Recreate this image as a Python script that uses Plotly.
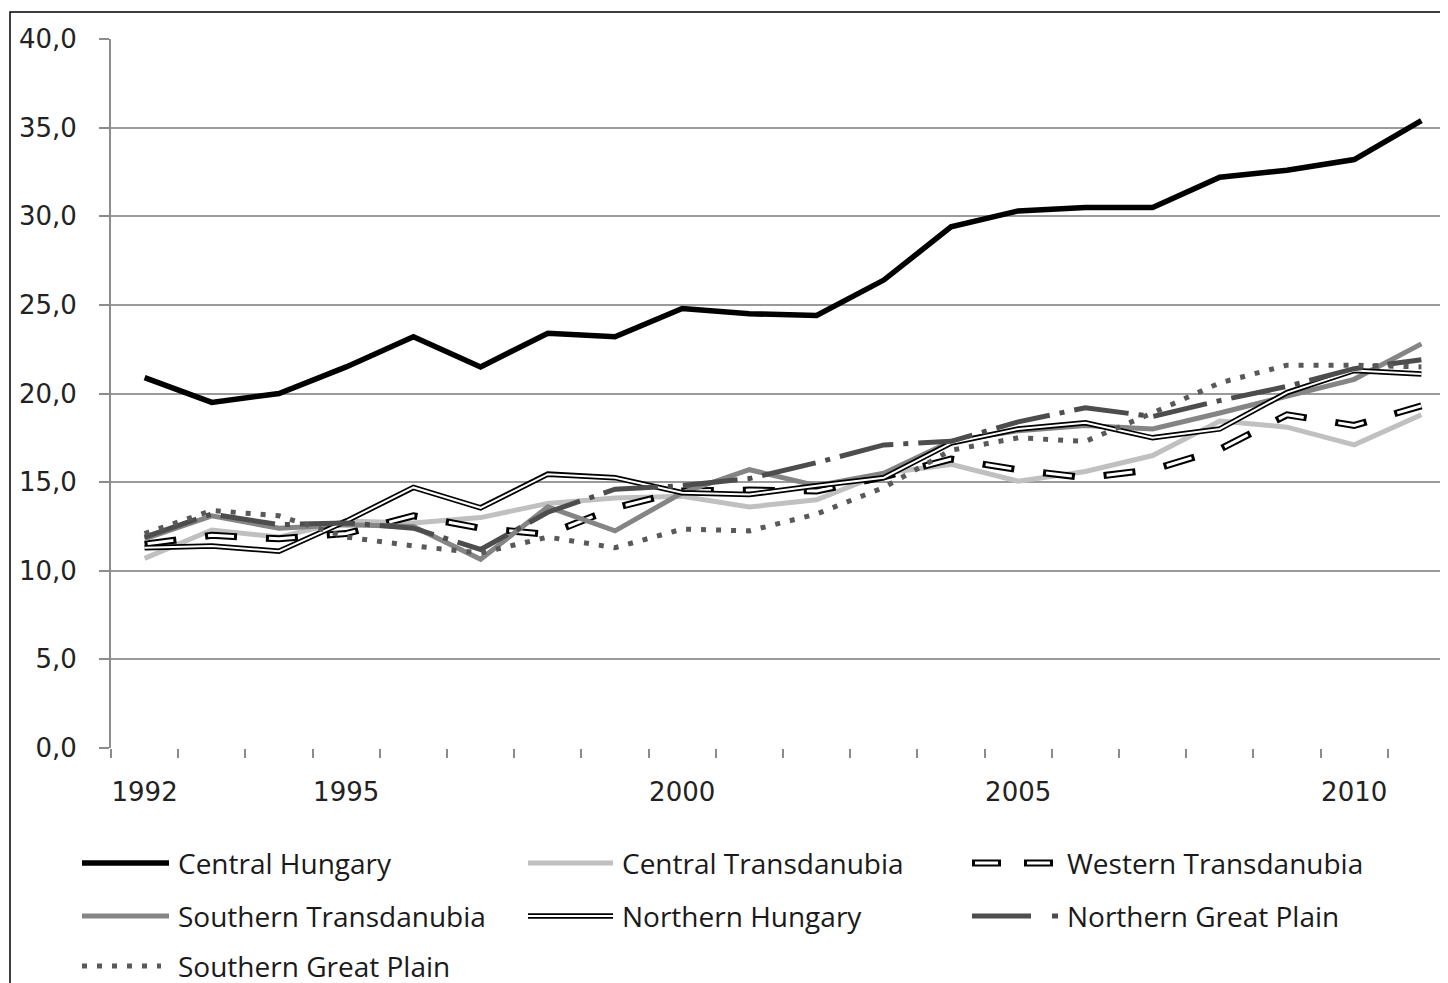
import plotly.graph_objects as go

years = list(range(1992, 2012))
central_hungary = [20.9, 19.5, 20.0, 21.5, 23.2, 21.5, 23.4, 23.2, 24.8, 24.5,
                   24.4, 26.4, 29.4, 30.3, 30.5, 30.5, 32.2, 32.6, 33.2, 35.4]
central_transdanubia = [10.7, 12.3, 11.9, 12.8, 12.7, 13.0, 13.8, 14.1, 14.2, 13.6,
                        14.0, 15.5, 16.0, 15.05, 15.6, 16.5, 18.45, 18.1, 17.1, 18.8]
western_transdanubia = [11.5, 12.0, 11.8, 12.1, 13.1, 12.4, 12.05, 13.55, 14.5, 14.55,
                        14.5, 15.3, 16.3, 15.7, 15.25, 15.7, 16.85, 18.8, 18.2, 19.3]
southern_transdanubia = [11.8, 13.1, 12.4, 12.6, 12.5, 10.65, 13.6, 12.25, 14.4, 15.7,
                         14.8, 15.5, 17.3, 17.9, 18.2, 18.0, 18.9, 19.85, 20.8, 22.8]
northern_hungary = [11.3, 11.4, 11.1, 12.8, 14.7, 13.55, 15.45, 15.25, 14.4, 14.3,
                    14.8, 15.25, 17.2, 18.0, 18.35, 17.5, 18.0, 20.05, 21.3, 21.1]
northern_great_plain = [11.9, 13.2, 12.6, 12.7, 12.4, 11.2, 13.3, 14.6, 14.8, 15.2,
                        16.1, 17.1, 17.3, 18.4, 19.2, 18.7, 19.6, 20.4, 21.4, 21.9]
southern_great_plain = [12.1, 13.4, 13.1, 11.9, 11.4, 11.0, 11.9, 11.3, 12.35, 12.25,
                        13.2, 14.7, 16.8, 17.5, 17.3, 18.9, 20.6, 21.6, 21.6, 21.5]

y_ticks = [0, 5, 10, 15, 20, 25, 30, 35, 40]
x_label_years = [1992, 1995, 2000, 2005, 2010]

# layout geometry (pixels); page offsets the figure by ~7px
OFF = 7
FW, FH = 1448, 983
ML, MR, MT = 110 - OFF, 0, 38 - OFF
MB = FH - (747 - OFF)
PW, PH = FW - ML - MR, FH - MT - MB
CAT = 67.2  # px per year


def px(x):
    return (x - OFF - ML) / PW


def py(y):
    return (FH - MB - (y - OFF)) / PH


fig = go.Figure()

OUT_DASH = "32px,29px"
IN_DASH = "0px,3px,26px,32px"
NGP_DASH = "55px,10px,5px,10px"
SGP_DASH = "5px,10px"
series = [
    ("Central Hungary", central_hungary, [("#000000", 5.5, "solid")]),
    ("Central Transdanubia", central_transdanubia, [("#c0c0c0", 5, "solid")]),
    ("Western Transdanubia", western_transdanubia,
     [("#000000", 7, OUT_DASH), ("#ffffff", 3, IN_DASH)]),
    ("Southern Transdanubia", southern_transdanubia, [("#858585", 5, "solid")]),
    ("Northern Hungary", northern_hungary,
     [("#000000", 5.5, "solid"), ("#ffffff", 2, "solid")]),
    ("Northern Great Plain", northern_great_plain, [("#4d4d4d", 5, NGP_DASH)]),
    ("Southern Great Plain", southern_great_plain, [("#595959", 5, SGP_DASH)]),
]

for name, vals, layers in series:
    for color, w, dash in layers:
        fig.add_trace(go.Scatter(
            x=years, y=vals, mode="lines", name=name, showlegend=False,
            line=dict(color=color, width=w, dash=dash),
            hoverinfo="skip" if color == "#ffffff" else None,
        ))

# custom legend (text as annotations, symbols as shapes), in reference pixels
legend_cols = [(81, 168, 175), (527, 612, 619), (971, 1056, 1064)]
legend_rows = [862, 915, 965]
legend_symbol = {
    "Western Transdanubia": (971, 1052, {"#000000": "29px,23px",
                                         "#ffffff": "0px,3px,23px,26px"}),
    "Northern Great Plain": (971, 1058, {"#4d4d4d": "59px,21px,6px,40px"}),
    "Southern Great Plain": (81, 160, {"#595959": "5px,10px"}),
}
shapes = []
annotations = []
for i, (name, vals, layers) in enumerate(series):
    r, c = divmod(i, 3)
    sx0, sx1, tx = legend_cols[c]
    yy = legend_rows[r]
    dmap = {}
    if name in legend_symbol:
        sx0, sx1, dmap = legend_symbol[name]
    for color, w, dash in layers:
        d = dmap.get(color, dash)
        shapes.append(dict(type="line", xref="paper", yref="paper",
                           x0=px(sx0), x1=px(sx1), y0=py(yy), y1=py(yy),
                           line=dict(color=color, width=w, dash=d)))
    annotations.append(dict(text=name, xref="paper", yref="paper",
                            x=px(tx), y=py(yy), xanchor="left", yanchor="middle",
                            showarrow=False,
                            font=dict(family="Open Sans", size=28, color="#1a1a1a")))

# chart border
shapes.append(dict(type="rect", xref="paper", yref="paper",
                   x0=px(9), x1=px(1480), y0=py(11), y1=py(1010),
                   line=dict(color="#000000", width=1.5), fillcolor="rgba(0,0,0,0)",
                   layer="below"))

fig.update_layout(
    width=FW, height=FH,
    margin=dict(l=ML, r=MR, t=MT, b=MB, pad=0),
    paper_bgcolor="white", plot_bgcolor="white",
    separators=",.",
    showlegend=False,
    shapes=shapes, annotations=annotations,
    font=dict(family="DejaVu Sans", size=26, color="#222222"),
)

fig.update_xaxes(
    range=[1991.5, 1991.5 + PW / CAT],
    tickmode="array", tickvals=x_label_years,
    ticks="", ticklabelstandoff=26,
    showgrid=False, zeroline=False,
    showline=False,
    minor=dict(tickmode="array", tickvals=[y - 0.5 for y in years + [2012]],
               ticks="outside", ticklen=9, tickwidth=2, tickcolor="#8c8c8c",
               showgrid=False),
    tickfont=dict(family="DejaVu Sans", size=26, color="#222222"),
)
fig.update_yaxes(
    range=[0, 40], tickmode="array", tickvals=y_ticks,
    tickformat=".1f",
    ticks="outside", ticklen=10, tickwidth=2, tickcolor="#8c8c8c",
    showgrid=True, gridcolor="#9a9a9a", gridwidth=2,
    zeroline=False,
    showline=True, linecolor="#8c8c8c", linewidth=2,
    ticklabelstandoff=17,
    tickfont=dict(family="DejaVu Sans", size=26, color="#222222"),
)

fig.write_html("out.html")
